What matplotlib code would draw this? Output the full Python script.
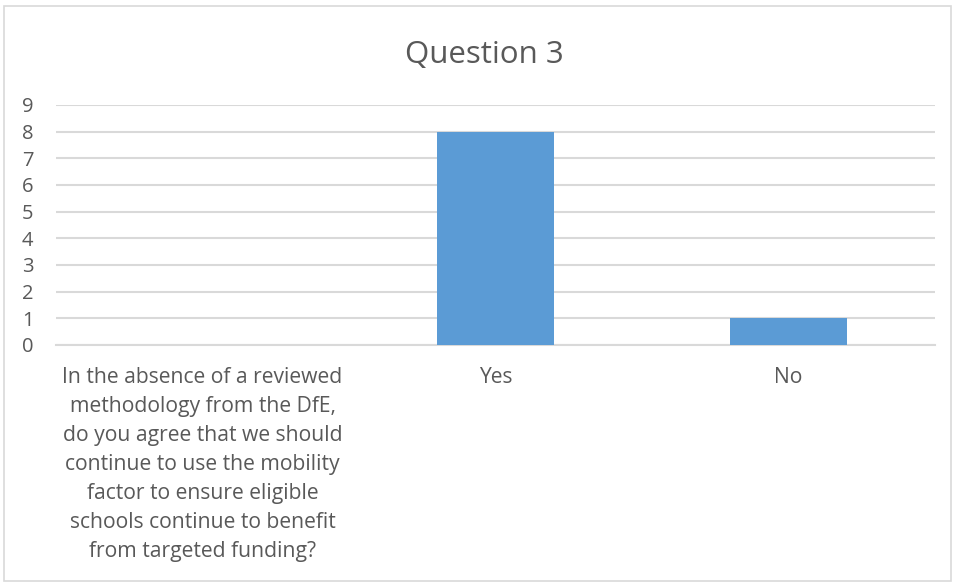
import matplotlib
matplotlib.use("Agg")
import matplotlib.pyplot as plt
from matplotlib.patches import Rectangle

categories = [
    "In the absence of a reviewed\nmethodology from the DfE,\ndo you agree that we should\ncontinue to use the mobility\nfactor to ensure eligible\nschools continue to benefit\nfrom targeted funding?",
    "Yes",
    "No",
]
values = [0, 8, 1]
yticks = [0, 1, 2, 3, 4, 5, 6, 7, 8, 9]
title = "Question 3"

plt.rcParams['font.family'] = ['Open Sans', 'DejaVu Sans']
text_color = "#595959"

fig = plt.figure(figsize=(9.55, 5.83), dpi=100)
ax = fig.add_axes([56/955, 1-345/583, (935-56)/955, (345-105)/583])

x = list(range(len(categories)))
ax.bar(x, values, width=0.4, color="#5b9bd5", zorder=3)
ax.set_xlim(-0.5, 2.5)
ax.set_ylim(0, 9)
ax.set_yticks(yticks)
ax.set_yticklabels([str(v) for v in yticks], fontsize=14.5, color=text_color)
ax.set_xticks(x)
ax.set_xticklabels(categories, fontsize=15.2, color=text_color, linespacing=1.5, va="top")
ax.tick_params(axis="both", length=0)
ax.tick_params(axis="x", pad=16)
ax.yaxis.set_tick_params(pad=0)
for lbl in ax.get_yticklabels():
    lbl.set_horizontalalignment("left")
    lbl.set_transform(lbl.get_transform() + matplotlib.transforms.ScaledTranslation(-34/100, 0, fig.dpi_scale_trans))

ax.grid(axis="y", color="#d9d9d9", linewidth=1.5, zorder=0)
for s in ["top", "right", "left"]:
    ax.spines[s].set_visible(False)
ax.spines["bottom"].set_color("#d9d9d9")
ax.spines["bottom"].set_linewidth(1.5)

fig.text(484/955, 1-55/583, title, ha="center", va="center", fontsize=22.5, color=text_color)

fig.patches.append(Rectangle((4/955, 1-581/583), (951-4)/955, (581-6)/583,
                             transform=fig.transFigure, fill=False,
                             edgecolor="#d9d9d9", linewidth=1.2))

fig.savefig("out.png", dpi=100)
